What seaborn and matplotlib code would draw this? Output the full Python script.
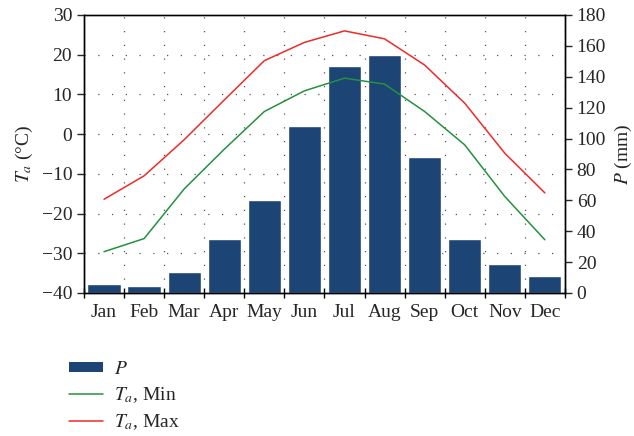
import numpy as np
import pandas as pd
import matplotlib
matplotlib.use("Agg")
from matplotlib import pyplot as plt
from matplotlib.lines import Line2D
from matplotlib.patches import Patch
import seaborn as sns

# monthly climate values
months = ["Jan", "Feb", "Mar", "Apr", "May", "Jun",
          "Jul", "Aug", "Sep", "Oct", "Nov", "Dec"]
precip = [6, 4.7, 13.3, 35, 60.3, 108, 147, 154, 88, 35, 19, 11.2]
t_min = [-29.6, -26.3, -13.8, -3.8, 5.7, 10.9, 14.1, 12.6, 5.7, -2.7, -15.7, -26.6]
t_max = [-16.4, -10.5, -1.4, 8.6, 18.5, 23.1, 26.0, 24.0, 17.4, 7.8, -4.8, -14.8]

t_ticks = [-40, -30, -20, -10, 0, 10, 20, 30]
p_ticks = [0, 20, 40, 60, 80, 100, 120, 140, 160, 180]

bar_color = "#1c4475"
min_color = "#24913f"
max_color = "#ef2a2a"
fs = 14

sns.set_theme(style="ticks")
plt.rcParams["font.family"] = ["Liberation Serif", "DejaVu Serif"]
plt.rcParams["mathtext.fontset"] = "stix"
plt.rcParams["font.size"] = fs

df = pd.DataFrame({"month": months, "P": precip, "Tmin": t_min, "Tmax": t_max})
df["pos"] = np.arange(len(months))

fig = plt.figure(figsize=(6.34, 4.36), dpi=100)
ax_p = fig.add_axes([0.1325, 0.328, 0.7585, 0.6376])
ax_t = ax_p.twinx()

# bars (precipitation) on the lower axes, right scale
sns.barplot(data=df, x="month", y="P", ax=ax_p, color=bar_color,
            saturation=1, width=0.83, zorder=2)
ax_p.set_ylim(0, 180)
ax_p.set_xlim(-0.5, 11.5)
ax_p.yaxis.tick_right()
ax_p.yaxis.set_label_position("right")
ax_p.set_yticks(p_ticks)
ax_p.set_ylabel("$P$ (mm)", fontsize=fs, labelpad=5)
ax_p.set_xlabel("")

# grid sits under the bars: vertical at month boundaries, horizontal at the T ticks
grid_p = [(t + 40) * 180 / 70 for t in t_ticks[1:-1]]
ax_p.set_yticks(grid_p, minor=True)
ax_p.tick_params(axis="y", which="minor", length=0)
ax_p.set_xticks(np.arange(-0.5, 12, 1))
ax_p.set_xticks(np.arange(12), minor=True)
ax_p.set_xticklabels([])
ax_p.set_xticklabels(months, minor=True)
ax_p.tick_params(axis="x", which="major", direction="inout", length=7, width=1, color="black")
ax_p.tick_params(axis="x", which="minor", length=0, pad=8, labelsize=fs)
ax_p.tick_params(axis="y", which="major", direction="out", length=5, width=1, labelsize=fs,
                 right=True, left=False, labelright=True, labelleft=False)
ax_p.set_axisbelow(True)
gstyle = dict(color="#555555", linestyle=(0, (1, 10)), linewidth=0.9)
ax_p.grid(axis="x", which="major", **gstyle)
ax_p.grid(axis="y", which="minor", **gstyle)

# temperature lines on the upper axes, left scale
sns.lineplot(data=df, x="pos", y="Tmin", ax=ax_t, color=min_color, linewidth=1.1)
sns.lineplot(data=df, x="pos", y="Tmax", ax=ax_t, color=max_color, linewidth=1.1)
ax_t.set_ylim(-40, 30)
ax_t.set_yticks(t_ticks)
ax_t.yaxis.tick_left()
ax_t.yaxis.set_label_position("left")
ax_t.set_ylabel("$T_a$ (°C)", fontsize=fs, labelpad=5)
ax_t.tick_params(axis="y", direction="out", length=5, width=1, labelsize=fs,
                 left=True, right=False, labelleft=True, labelright=False)
ax_t.set_xlim(-0.5, 11.5)
ax_t.set_xlabel("")
ax_t.grid(False)

for ax in (ax_p, ax_t):
    for s in ax.spines.values():
        s.set_color("black")
        s.set_linewidth(1)
ax_p.spines["top"].set_color("#333333")

handles = [
    Patch(facecolor=bar_color, edgecolor="none"),
    Line2D([], [], color=min_color, linewidth=1.1),
    Line2D([], [], color=max_color, linewidth=1.1),
]
labels = ["$P$", "$T_a$, Min", "$T_a$, Max"]
fig.legend(handles, labels, loc="upper left", bbox_to_anchor=(0.093, 0.195),
           frameon=False, fontsize=fs, handlelength=1.75, handleheight=0.4,
           handletextpad=0.6, labelspacing=0.38, borderpad=0)

fig.savefig("out.png", dpi=100)
